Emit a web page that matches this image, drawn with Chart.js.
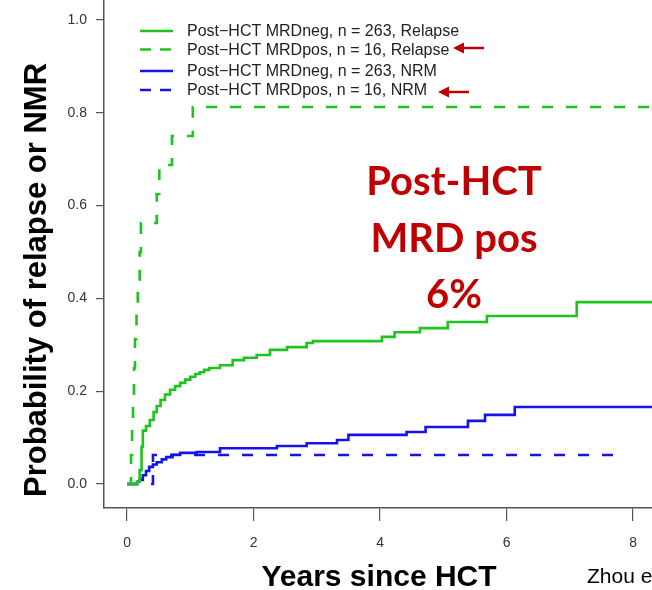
<!DOCTYPE html>
<html>
<head>
    <title>Relapse and NRM by post-HCT MRD</title>
    <script src="https://cdn.jsdelivr.net/npm/chart.js"></script>
    <style>
        body {
            margin: 0;
            background-color: #ffffff;
        }
        #wrap {
            width: 652px;
            height: 590px;
            position: relative;
        }
    </style>
</head>
<body>
    <div id="wrap">
        <canvas id="myChart"></canvas>
    </div>

    <script>
        // Axis ticks
        const xTicks = [0, 2, 4, 6, 8];
        const yTicks = [0, 0.2, 0.4, 0.6, 0.8, 1.0];

        // Legend labels
        const seriesNames = [
            "Post\u2212HCT MRDneg, n = 263, Relapse",
            "Post\u2212HCT MRDpos, n = 16, Relapse",
            "Post\u2212HCT MRDneg, n = 263, NRM",
            "Post\u2212HCT MRDpos, n = 16, NRM"
        ];

        // MRDneg relapse (green solid) - years / cumulative probability
        const negRelapseT = [0, 0.16, 0.2, 0.23, 0.25, 0.3, 0.36, 0.42, 0.47, 0.53, 0.6, 0.68, 0.76, 0.84, 0.92, 1.0, 1.08, 1.15, 1.22, 1.3, 1.47, 1.67, 1.85, 2.05, 2.26, 2.53, 2.84, 2.94, 4.03, 4.23, 4.63, 5.07, 5.69, 7.11, 8.3];
        const negRelapseP = [0, 0.005, 0.03, 0.08, 0.115, 0.125, 0.138, 0.155, 0.168, 0.181, 0.193, 0.203, 0.211, 0.218, 0.225, 0.231, 0.237, 0.241, 0.246, 0.25, 0.256, 0.267, 0.272, 0.278, 0.289, 0.295, 0.304, 0.308, 0.317, 0.327, 0.336, 0.349, 0.362, 0.392, 0.392];

        // MRDpos relapse (green dashed)
        const posRelapseT = [0, 0.063, 0.08, 0.095, 0.11, 0.126, 0.15, 0.17, 0.2, 0.22, 0.47, 0.51, 0.71, 1.04, 8.3];
        const posRelapseP = [0, 0.0625, 0.125, 0.1875, 0.25, 0.3125, 0.375, 0.4375, 0.5, 0.5625, 0.625, 0.6875, 0.75, 0.8125, 0.8125];

        // MRDneg NRM (blue solid)
        const negNrmT = [0, 0.16, 0.2, 0.25, 0.3, 0.35, 0.41, 0.47, 0.55, 0.62, 0.72, 0.84, 1.1, 1.47, 2.37, 2.84, 3.32, 3.5, 4.42, 4.72, 5.39, 5.66, 6.13, 8.3];
        const negNrmP = [0, 0.005, 0.009, 0.019, 0.028, 0.037, 0.042, 0.047, 0.053, 0.058, 0.063, 0.067, 0.069, 0.077, 0.082, 0.088, 0.095, 0.106, 0.112, 0.123, 0.136, 0.149, 0.166, 0.166];

        // MRDpos NRM (blue dashed)
        const posNrmT = [0, 0.41, 7.84];
        const posNrmP = [0, 0.0625, 0.0625];

        const green = '#1ec41e';
        const blue = '#1414e8';
        const darkRed = '#c00000';

        function toPoints(ts, ps) {
            return ts.map((t, i) => ({ x: t, y: ps[i] }));
        }

        function curve(label, ts, ps, color, dashed) {
            return {
                label: label,
                data: toPoints(ts, ps),
                borderColor: color,
                backgroundColor: color,
                borderWidth: 2.6,
                borderDash: dashed ? [11, 13] : [],
                stepped: 'before',
                pointRadius: 0,
                fill: false
            };
        }

        // legend, arrows, callout text and axis titles
        const overlay = {
            id: 'overlay',
            afterDraw(chart) {
                const ctx = chart.ctx;
                ctx.save();

                // legend
                const rowsY = [31, 49.5, 71, 90];
                chart.data.datasets.forEach((ds, i) => {
                    ctx.strokeStyle = ds.borderColor;
                    ctx.lineWidth = 2.6;
                    ctx.setLineDash(ds.borderDash.length ? [11, 9] : []);
                    ctx.beginPath();
                    ctx.moveTo(140, rowsY[i]);
                    ctx.lineTo(173, rowsY[i]);
                    ctx.stroke();
                    ctx.setLineDash([]);
                    ctx.fillStyle = '#222';
                    ctx.font = '16px "Liberation Sans", Arial, sans-serif';
                    ctx.textAlign = 'left';
                    ctx.textBaseline = 'middle';
                    ctx.fillText(ds.label, 187, rowsY[i] + 1);
                });

                // red arrows pointing at the MRDpos rows
                function arrow(x0, x1, y) {
                    ctx.strokeStyle = darkRed;
                    ctx.fillStyle = darkRed;
                    ctx.lineWidth = 2.5;
                    ctx.beginPath();
                    ctx.moveTo(x0, y);
                    ctx.lineTo(x1 + 8, y);
                    ctx.stroke();
                    ctx.beginPath();
                    ctx.moveTo(x1, y);
                    ctx.lineTo(x1 + 11, y - 5.5);
                    ctx.lineTo(x1 + 11, y + 5.5);
                    ctx.closePath();
                    ctx.fill();
                }
                arrow(484, 453, 48);
                arrow(469, 438, 92);

                // callout
                ctx.fillStyle = darkRed;
                ctx.font = 'bold 40px Lato, "Open Sans", sans-serif';
                ctx.textAlign = 'center';
                ctx.textBaseline = 'alphabetic';
                ctx.fillText('Post-HCT', 454, 195);
                ctx.fillText('MRD pos', 454, 252);
                ctx.fillText('6%', 454, 308);

                // axis titles
                ctx.fillStyle = '#000';
                ctx.font = 'bold 30px "Liberation Sans", Arial, sans-serif';
                ctx.fillText('Years since HCT', 379, 586);

                ctx.save();
                ctx.translate(46, 280);
                ctx.rotate(-Math.PI / 2);
                ctx.font = 'bold 31px "Liberation Sans", Arial, sans-serif';
                ctx.fillText('Probability of relapse or NMR', 0, 0);
                ctx.restore();

                // source note, cut by the right edge
                ctx.font = '21px "Liberation Sans", Arial, sans-serif';
                ctx.textAlign = 'left';
                ctx.fillText('Zhou et al.', 587, 583);

                ctx.restore();
            }
        };

        const ctx = document.getElementById('myChart').getContext('2d');
        const myChart = new Chart(ctx, {
            type: 'line',
            data: {
                datasets: [
                    curve(seriesNames[0], negRelapseT, negRelapseP, green, false),
                    curve(seriesNames[1], posRelapseT, posRelapseP, green, true),
                    curve(seriesNames[2], negNrmT, negNrmP, blue, false),
                    curve(seriesNames[3], posNrmT, posNrmP, blue, true)
                ]
            },
            options: {
                responsive: true,
                maintainAspectRatio: false,
                animation: false,
                layout: { padding: 0 },
                plugins: {
                    legend: { display: false },
                    tooltip: { enabled: false }
                },
                scales: {
                    x: {
                        type: 'linear',
                        min: -0.364,
                        max: 8.3,
                        afterBuildTicks: axis => { axis.ticks = xTicks.map(v => ({ value: v })); },
                        afterFit: axis => {
                            axis.height = 82;
                            axis.paddingLeft = 0;
                            axis.paddingRight = 0;
                        },
                        border: { display: true, color: '#555', width: 1.5 },
                        grid: { drawOnChartArea: false, drawTicks: true, tickLength: 13, color: '#555', lineWidth: 1.2 },
                        ticks: {
                            padding: 14,
                            maxRotation: 0,
                            color: '#333',
                            font: { family: '"Liberation Sans", Arial, sans-serif', size: 14 },
                            callback: v => String(v)
                        }
                    },
                    y: {
                        type: 'linear',
                        min: -0.0517,
                        max: 1.0431,
                        afterBuildTicks: axis => { axis.ticks = yTicks.map(v => ({ value: v })); },
                        afterFit: axis => {
                            axis.width = 104;
                            axis.paddingTop = 0;
                            axis.paddingBottom = 0;
                        },
                        border: { display: true, color: '#555', width: 1.5 },
                        grid: { drawOnChartArea: false, drawTicks: true, tickLength: 8, color: '#555', lineWidth: 1.2 },
                        ticks: {
                            padding: 9,
                            color: '#333',
                            font: { family: '"Liberation Sans", Arial, sans-serif', size: 14 },
                            callback: v => v.toFixed(1)
                        }
                    }
                }
            },
            plugins: [overlay]
        });
    </script>
</body>
</html>
